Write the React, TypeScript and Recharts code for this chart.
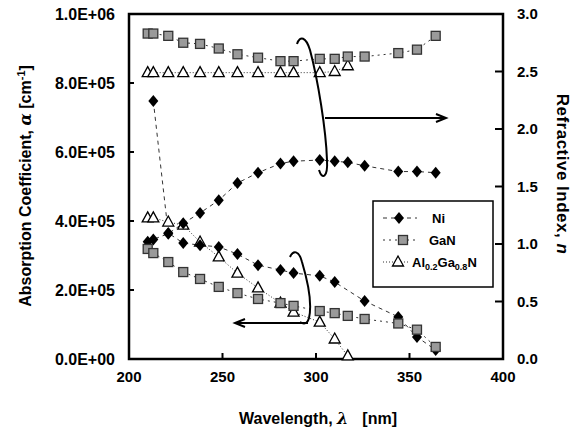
import React from "react";
import { LineChart, Line, XAxis, YAxis, ReferenceArea } from "recharts";

// wavelength grid (nm), shared by all series
const wavelengths = [210, 213, 221, 229, 238, 248, 258, 269, 281, 288, 302, 310, 317, 326, 344, 354, 364];

// absorption coefficient (cm^-1), left axis
const niAbs = [null, 7.48e5, 3.65e5, 3.36e5, 3.3e5, 3.25e5, 3.04e5, 2.72e5, 2.58e5, 2.49e5, 2.41e5, 2.23e5, null, 1.68e5, 1.22e5, 0.64e5, 0.26e5];
const ganAbs = [3.19e5, 3.07e5, 2.81e5, 2.52e5, 2.32e5, 2.09e5, 1.91e5, 1.74e5, 1.62e5, 1.54e5, 1.39e5, 1.33e5, 1.25e5, 1.16e5, 1.03e5, 0.85e5, 0.35e5];
const alganAbs = [4.09e5, 4.09e5, 3.97e5, 3.88e5, 3.39e5, 2.96e5, 2.49e5, 2.06e5, 1.62e5, 1.36e5, 1.07e5, 0.58e5, 0.09e5, null, null, null, null];

// refractive index, right axis
const niN = [1.02, 1.04, 1.09, 1.18, 1.27, 1.38, 1.53, 1.62, 1.7, 1.72, 1.73, 1.72, 1.71, 1.68, 1.63, 1.63, 1.62];
const ganN = [2.83, 2.83, 2.81, 2.75, 2.74, 2.7, 2.65, 2.62, 2.59, 2.59, 2.61, 2.61, 2.63, 2.63, 2.66, 2.69, 2.81];
const alganN = [2.49, 2.49, 2.49, 2.49, 2.49, 2.49, 2.49, 2.49, 2.49, 2.49, 2.49, 2.5, 2.55, null, null, null, null];

const xTicks = [200, 250, 300, 350, 400];
const absTicks = [0, 2e5, 4e5, 6e5, 8e5, 1e6];
const nTicks = [0, 0.5, 1, 1.5, 2, 2.5, 3];

const data = wavelengths.map((wl, i) => ({
  wl,
  niAbs: niAbs[i],
  ganAbs: ganAbs[i],
  alganAbs: alganAbs[i],
  niN: niN[i],
  ganN: ganN[i],
  alganN: alganN[i],
}));

const W = 582;
const H = 437;
const LEFT = 129;
const RIGHT = 503;
const BOTTOM = 359;
const FONT = "'Liberation Sans', Arial, sans-serif";

const fmtExp = (v: number) => {
  const [m, e] = v.toExponential(1).split("e");
  const sign = e[0] === "-" ? "-" : "+";
  const digits = e.replace(/[+-]/, "").padStart(2, "0");
  return `${m}E${sign}${digits}`;
};

const LeftTick = ({ y, payload }: any) => (
  <g>
    <line x1={LEFT} x2={LEFT + 5} y1={y} y2={y} stroke="#000" strokeWidth={2} />
    <text x={115} y={y + 5.7} textAnchor="end" fontFamily={FONT} fontWeight="bold" fontSize={16} fill="#000">
      {fmtExp(payload.value)}
    </text>
  </g>
);

const RightTick = ({ y, payload }: any) => (
  <g>
    <line x1={RIGHT - 8} x2={RIGHT} y1={y} y2={y} stroke="#000" strokeWidth={2} />
    <text x={517} y={y + 5.4} textAnchor="start" fontFamily={FONT} fontWeight="bold" fontSize={15} fill="#000">
      {payload.value.toFixed(1)}
    </text>
  </g>
);

const BottomTick = ({ x, payload }: any) => (
  <g>
    <line x1={x} x2={x} y1={BOTTOM - 6} y2={BOTTOM} stroke="#000" strokeWidth={2} />
    <text x={x} y={382} textAnchor="middle" fontFamily={FONT} fontWeight="bold" fontSize={15} fill="#000">
      {payload.value}
    </text>
  </g>
);

const diamondPath = (cx: number, cy: number) => `M${cx},${cy - 6} L${cx + 5},${cy} L${cx},${cy + 6} L${cx - 5},${cy} Z`;
const trianglePath = (cx: number, cy: number) => `M${cx},${cy - 6} L${cx + 5.5},${cy + 4} L${cx - 5.5},${cy + 4} Z`;

const DiamondDot = (p: any) =>
  p.cy == null ? <g key={p.index} /> : <path key={p.index} d={diamondPath(p.cx, p.cy)} fill="#000" />;

const SquareDot = (p: any) =>
  p.cy == null ? (
    <g key={p.index} />
  ) : (
    <rect key={p.index} x={p.cx - 4.5} y={p.cy - 4.5} width={9} height={9} fill="#9a9a9a" stroke="#333" strokeWidth={1.3} />
  );

const TriangleDot = (p: any) =>
  p.cy == null ? (
    <g key={p.index} />
  ) : (
    <path key={p.index} d={trianglePath(p.cx, p.cy)} fill="#fff" stroke="#000" strokeWidth={1.3} />
  );

const NI_DASH = "4 4";
const GAN_DASH = "2 4";
const ALGAN_DASH = "1 2";

function Overlay() {
  return (
    <svg width={W} height={H} style={{ position: "absolute", left: 0, top: 0, pointerEvents: "none" }}>
      {/* axis titles */}
      <text
        transform="translate(31,186) rotate(-90)"
        textAnchor="middle"
        fontFamily={FONT}
        fontWeight="bold"
        fontSize={16}
        fill="#000"
      >
        Absorption Coefficient, <tspan fontStyle="italic" fontFamily="'DejaVu Serif', serif">α</tspan> [cm
        <tspan dy={-6} fontSize={11}>-1</tspan>
        <tspan dy={6}>]</tspan>
      </text>
      <text
        transform="translate(557,174) rotate(90)"
        textAnchor="middle"
        fontFamily={FONT}
        fontWeight="bold"
        fontSize={17}
        letterSpacing={0.5}
        fill="#000"
      >
        Refractive Index, <tspan fontStyle="italic">n</tspan>
      </text>
      <text x={318} y={424} textAnchor="middle" fontFamily={FONT} fontWeight="bold" fontSize={16} fill="#000">
        Wavelength, <tspan fontStyle="italic" fontFamily="'DejaVu Serif', serif">λ</tspan>
        <tspan dx={14}>[nm]</tspan>
      </text>

      {/* annotation loops and arrows */}
      <g fill="none" stroke="#000" strokeWidth={2}>
        <path d="M297,44 C300,35 306,37 310,50 C318,80 326,130 327,160 C328,178 322,180 319,170" />
        <path d="M325,118 L444,118" />
        <path d="M436,114 L446,118 L436,122" />
        <path d="M290,257 C293,250 299,250 302,262 C308,282 312,305 309,318 C307,325 303,324 300,322" />
        <path d="M308,323 L237,323" />
        <path d="M245,319 L235,323 L245,327" />
      </g>

      {/* legend */}
      <rect x={373} y={201} width={120} height={86} fill="#fff" stroke="#000" strokeWidth={1.5} />
      <g fontFamily={FONT} fontWeight="bold" fontSize={13} fill="#000">
        <line x1={383} x2={417} y1={218} y2={218} stroke="#333" strokeDasharray={NI_DASH} />
        <path d={diamondPath(399, 218)} fill="#000" />
        <text x={432} y={223}>Ni</text>

        <line x1={383} x2={417} y1={240} y2={240} stroke="#333" strokeDasharray={GAN_DASH} />
        <rect x={398.5} y={235.5} width={9} height={9} fill="#9a9a9a" stroke="#333" strokeWidth={1.3} />
        <text x={429} y={245}>GaN</text>

        <line x1={383} x2={410} y1={262} y2={262} stroke="#333" strokeDasharray={ALGAN_DASH} />
        <path d={trianglePath(398, 262)} fill="#fff" stroke="#000" strokeWidth={1.3} />
        <text x={412} y={267}>
          Al<tspan dy={3} fontSize={9}>0.2</tspan>
          <tspan dy={-3}>Ga</tspan>
          <tspan dy={3} fontSize={9}>0.8</tspan>
          <tspan dy={-3}>N</tspan>
        </text>
      </g>
    </svg>
  );
}

export default function App() {
  return (
    <div style={{ position: "absolute", left: 0, top: 0, width: W, height: H, background: "#fff" }}>
      <LineChart width={W} height={H} data={data} margin={{ top: 14, right: 0, bottom: 0, left: 0 }}>
        <XAxis
          type="number"
          dataKey="wl"
          domain={[200, 400]}
          ticks={xTicks}
          height={78}
          axisLine={false}
          tickLine={false}
          tick={<BottomTick />}
          interval={0}
        />
        <YAxis
          yAxisId="a"
          orientation="left"
          domain={[0, 1e6]}
          ticks={absTicks}
          width={129}
          axisLine={false}
          tickLine={false}
          tick={<LeftTick />}
          interval={0}
        />
        <YAxis
          yAxisId="n"
          orientation="right"
          domain={[0, 3]}
          ticks={nTicks}
          width={79}
          axisLine={false}
          tickLine={false}
          tick={<RightTick />}
          interval={0}
        />
        <ReferenceArea
          yAxisId="a"
          x1={200}
          x2={400}
          y1={0}
          y2={1e6}
          fill="none"
          fillOpacity={0}
          stroke="#000"
          strokeWidth={2.5}
        />

        <Line yAxisId="a" dataKey="alganAbs" stroke="#333" strokeWidth={1} strokeDasharray={ALGAN_DASH} dot={TriangleDot} connectNulls isAnimationActive={false} />
        <Line yAxisId="n" dataKey="alganN" stroke="#333" strokeWidth={1} strokeDasharray={ALGAN_DASH} dot={TriangleDot} connectNulls isAnimationActive={false} />
        <Line yAxisId="a" dataKey="niAbs" stroke="#333" strokeWidth={1} strokeDasharray={NI_DASH} dot={DiamondDot} connectNulls isAnimationActive={false} />
        <Line yAxisId="n" dataKey="niN" stroke="#333" strokeWidth={1} strokeDasharray={NI_DASH} dot={DiamondDot} connectNulls isAnimationActive={false} />
        <Line yAxisId="a" dataKey="ganAbs" stroke="#333" strokeWidth={1} strokeDasharray={GAN_DASH} dot={SquareDot} connectNulls isAnimationActive={false} />
        <Line yAxisId="n" dataKey="ganN" stroke="#333" strokeWidth={1} strokeDasharray={GAN_DASH} dot={SquareDot} connectNulls isAnimationActive={false} />
      </LineChart>
      <Overlay />
    </div>
  );
}
